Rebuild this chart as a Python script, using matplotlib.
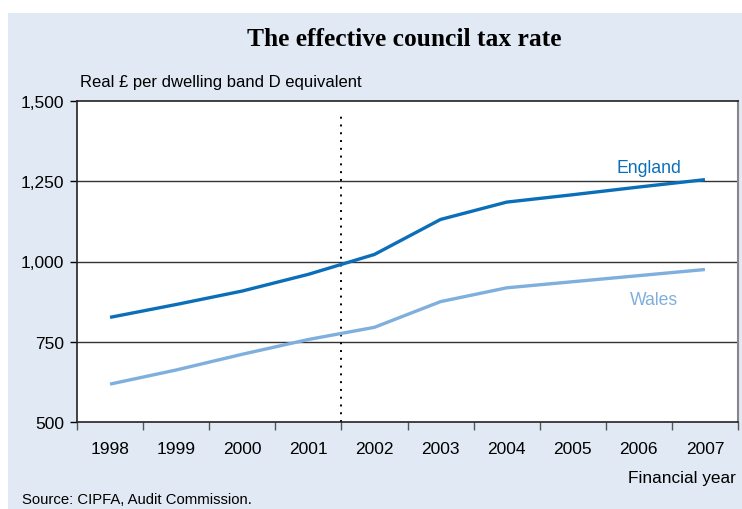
import matplotlib
matplotlib.use("Agg")
import matplotlib.pyplot as plt
from matplotlib.patches import Rectangle

# data
years = ["1998", "1999", "2000", "2001", "2002", "2003", "2004", "2005", "2006", "2007"]
england = [826, 866, 908, 960, 1022, 1131, 1185, 1208, 1232, 1255]
wales = [618, 662, 711, 757, 795, 875, 918, 937, 956, 975]

england_col = "#0A6FB8"
wales_col = "#7FAFDC"
bg_col = "#E1E9F4"
sans = ["Liberation Sans", "DejaVu Sans"]

fig = plt.figure(figsize=(7.42, 5.10), dpi=100)
fig.patch.set_facecolor("white")
# light blue panel behind everything
fig.patches.append(Rectangle((8 / 742, 0), 1, 496 / 510, transform=fig.transFigure,
                             facecolor=bg_col, edgecolor="none", zorder=-10))

ax = fig.add_axes([77 / 742, 87 / 510, 661 / 742, 321 / 510])
ax.set_facecolor("white")

x = list(range(len(years)))
ax.plot(x, england, color=england_col, lw=2.4, solid_capstyle="butt", zorder=3)
ax.plot(x, wales, color=wales_col, lw=2.4, solid_capstyle="butt", zorder=3)

# dotted divider between 2001 and 2002
ax.plot([3.5, 3.5], [500, 1452], color="black", lw=1.4, ls=(0, (1, 3)), zorder=2)

ax.set_xlim(-0.5, 9.5)
ax.set_ylim(500, 1500)
ax.set_yticks([500, 750, 1000, 1250, 1500])
ax.set_yticklabels(["500", "750", "1,000", "1,250", "1,500"])
for v in [750, 1000, 1250]:
    ax.axhline(v, color="#333333", lw=1.0, zorder=1)

ax.set_xticks([i + 0.5 for i in range(-1, 10)])
ax.set_xticklabels([])
ax.set_xticks(x, minor=True)
ax.set_xticklabels(years, minor=True)
ax.tick_params(axis="x", which="minor", length=0, pad=14, labelsize=12.5)
ax.tick_params(axis="x", which="major", length=6, width=1, color="#555555", direction="out")
ax.tick_params(axis="y", length=5, width=1, labelsize=12.5, pad=4)

for s in ["left", "bottom", "top"]:
    ax.spines[s].set_color("#222222")
    ax.spines[s].set_linewidth(1.2)
ax.spines["right"].set_color("#888888")
ax.spines["right"].set_linewidth(1.5)

for t in ax.get_xticklabels(minor=True) + ax.get_yticklabels():
    t.set_family(sans)

ax.text(8.15, 1294, "England", color=england_col, fontsize=12.7, ha="center", va="center",
        family=sans)
ax.text(8.23, 883, "Wales", color=wales_col, fontsize=12.7, ha="center", va="center",
        family=sans)

fig.text(404 / 742, 1 - 40 / 510, "The effective council tax rate", ha="center", va="center",
         fontsize=18.4, fontweight="bold", family=["Liberation Serif", "DejaVu Serif"])
fig.text(80 / 742, 1 - 82 / 510, "Real £ per dwelling band D equivalent", ha="left", va="center",
         fontsize=12, family=sans)
fig.text(736 / 742, 1 - 479 / 510, "Financial year", ha="right", va="center",
         fontsize=12.4, family=sans)
fig.text(22 / 742, 1 - 500 / 510, "Source: CIPFA, Audit Commission.", ha="left", va="center",
         fontsize=10.7, family=sans)

fig.savefig("out.png", dpi=100)
